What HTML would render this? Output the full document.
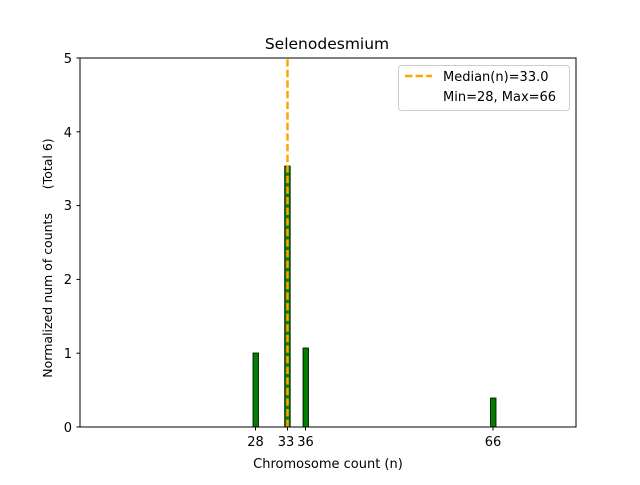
<!DOCTYPE html><html><head><style>body{margin:0;background:#fff}</style></head><body>
<svg width="640" height="480" xmlns="http://www.w3.org/2000/svg" font-family="DejaVu Sans, Liberation Sans, sans-serif">
<rect width="640" height="480" fill="#fff"/>
<g fill="#007f00" stroke="#000" stroke-width="0.8">
<rect x="253" y="353" width="5.5" height="74"/>
<rect x="284.7" y="166" width="5.5" height="261"/>
<rect x="303" y="348" width="5.5" height="79"/>
<rect x="490.5" y="398" width="5.5" height="29"/>
</g>
<line x1="287.5" y1="427" x2="287.5" y2="58" stroke="#ffa500" stroke-width="2.5" stroke-dasharray="7.4,3.2"/>
<rect x="80" y="58" width="496" height="369" fill="none" stroke="#000" stroke-width="1"/>
<g stroke="#000"><line x1="76.5" x2="80" y1="427" y2="427"/><line x1="76.5" x2="80" y1="353.2" y2="353.2"/><line x1="76.5" x2="80" y1="279.4" y2="279.4"/><line x1="76.5" x2="80" y1="205.6" y2="205.6"/><line x1="76.5" x2="80" y1="131.8" y2="131.8"/><line x1="76.5" x2="80" y1="58" y2="58"/>
<line x1="255.5" x2="255.5" y1="427" y2="430.5"/><line x1="287.5" x2="287.5" y1="427" y2="430.5"/><line x1="305.5" x2="305.5" y1="427" y2="430.5"/><line x1="493" x2="493" y1="427" y2="430.5"/></g>
<g font-size="13" text-anchor="end"><text x="72" y="432">0</text><text x="72" y="358">1</text><text x="72" y="284">2</text><text x="72" y="210">3</text><text x="72" y="137">4</text><text x="72" y="63">5</text></g>
<g font-size="13" text-anchor="middle"><text x="255.5" y="446">28</text><text x="286" y="446">33</text><text x="305.5" y="446">36</text><text x="493" y="446">66</text>
<text x="328" y="468">Chromosome count (n)</text>
<text x="327" y="49" font-size="15.5">Selenodesmium</text></g>
<text transform="translate(52,258) rotate(-90)" font-size="12.5" text-anchor="middle" style="white-space:pre" xml:space="preserve">Normalized num of counts      (Total 6)</text>
<rect x="398.5" y="65.5" width="171" height="45" rx="3" fill="#fff" stroke="#ccc"/>
<line x1="405" x2="432" y1="76" y2="76" stroke="#ffa500" stroke-width="2.5" stroke-dasharray="7.4,3.2"/>
<g font-size="13"><text x="443" y="81">Median(n)=33.0</text><text x="443" y="101">Min=28, Max=66</text></g>
</svg></body></html>
